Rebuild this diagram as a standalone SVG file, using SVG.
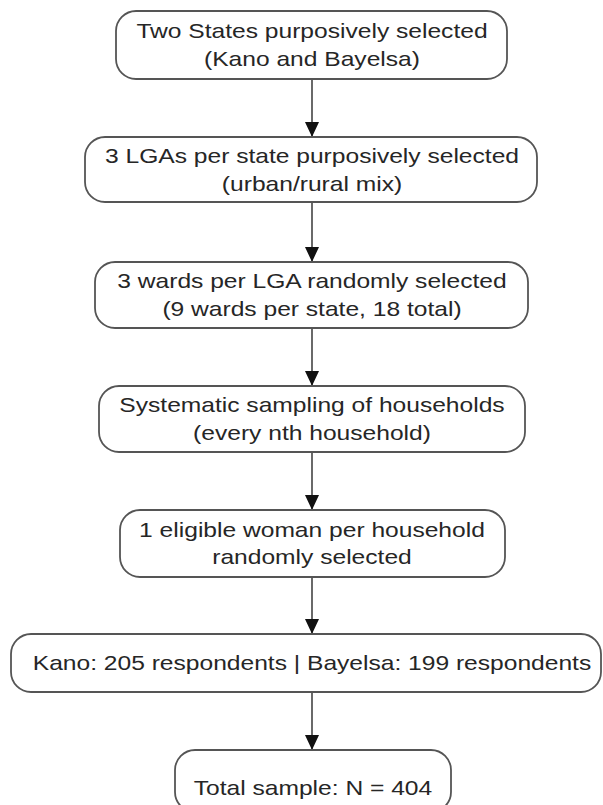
<svg xmlns="http://www.w3.org/2000/svg" width="603" height="805" viewBox="0 0 603 805">
  <defs>
    <marker id="arrow" viewBox="0 0 15 14" refX="15" refY="7" markerWidth="15" markerHeight="14" markerUnits="userSpaceOnUse" orient="auto">
      <path d="M0,0 L15,7 L0,14 z" fill="#111"/>
    </marker>
    <style>
      .box { fill: #ffffff; stroke: #555555; stroke-width: 1.8; }
      .lbl { font-family: "Liberation Sans", Arial, sans-serif; font-size: 20.5px; fill: #262626; text-anchor: middle; }
      .edge { stroke: #444444; stroke-width: 1.6; fill: none; marker-end: url(#arrow); }
    </style>
  </defs>
  <rect width="603" height="805" fill="#ffffff"/>

  <g id="connectors">
    <line class="edge" x1="312" y1="79" x2="312" y2="137"/>
    <line class="edge" x1="312" y1="202" x2="312" y2="262"/>
    <line class="edge" x1="312" y1="328" x2="312" y2="386"/>
    <line class="edge" x1="312" y1="452" x2="312" y2="510"/>
    <line class="edge" x1="312" y1="577" x2="312" y2="634"/>
    <line class="edge" x1="312" y1="692" x2="312" y2="750"/>
  </g>

  <g id="node1">
    <rect class="box" x="116" y="11" width="391" height="68" rx="20" ry="20"/>
    <text class="lbl" transform="scale(1.2,1)" x="260" y="38">Two States purposively selected</text>
    <text class="lbl" transform="scale(1.2,1)" x="260" y="66">(Kano and Bayelsa)</text>
  </g>

  <g id="node2">
    <rect class="box" x="85" y="137" width="452" height="65" rx="20" ry="20"/>
    <text class="lbl" transform="scale(1.2,1)" x="260" y="163">3 LGAs per state purposively selected</text>
    <text class="lbl" transform="scale(1.2,1)" x="260" y="191">(urban/rural mix)</text>
  </g>

  <g id="node3">
    <rect class="box" x="95" y="262" width="433" height="66" rx="20" ry="20"/>
    <text class="lbl" transform="scale(1.2,1)" x="260" y="288">3 wards per LGA randomly selected</text>
    <text class="lbl" transform="scale(1.2,1)" x="260" y="316">(9 wards per state, 18 total)</text>
  </g>

  <g id="node4">
    <rect class="box" x="99" y="386" width="426" height="66" rx="20" ry="20"/>
    <text class="lbl" transform="scale(1.2,1)" x="260" y="412">Systematic sampling of households</text>
    <text class="lbl" transform="scale(1.2,1)" x="260" y="440">(every nth household)</text>
  </g>

  <g id="node5">
    <rect class="box" x="120" y="510" width="385" height="67" rx="20" ry="20"/>
    <text class="lbl" transform="scale(1.2,1)" x="260" y="537">1 eligible woman per household</text>
    <text class="lbl" transform="scale(1.2,1)" x="260" y="564">randomly selected</text>
  </g>

  <g id="node6">
    <rect class="box" x="11" y="634" width="590" height="58" rx="20" ry="20"/>
    <text class="lbl" transform="scale(1.2,1)" x="260" y="670">Kano: 205 respondents | Bayelsa: 199 respondents</text>
  </g>

  <g id="node7">
    <rect class="box" x="175" y="750" width="276" height="62" rx="20" ry="20"/>
    <text class="lbl" transform="scale(1.2,1)" x="260.8" y="795">Total sample: N = 404</text>
  </g>
</svg>
